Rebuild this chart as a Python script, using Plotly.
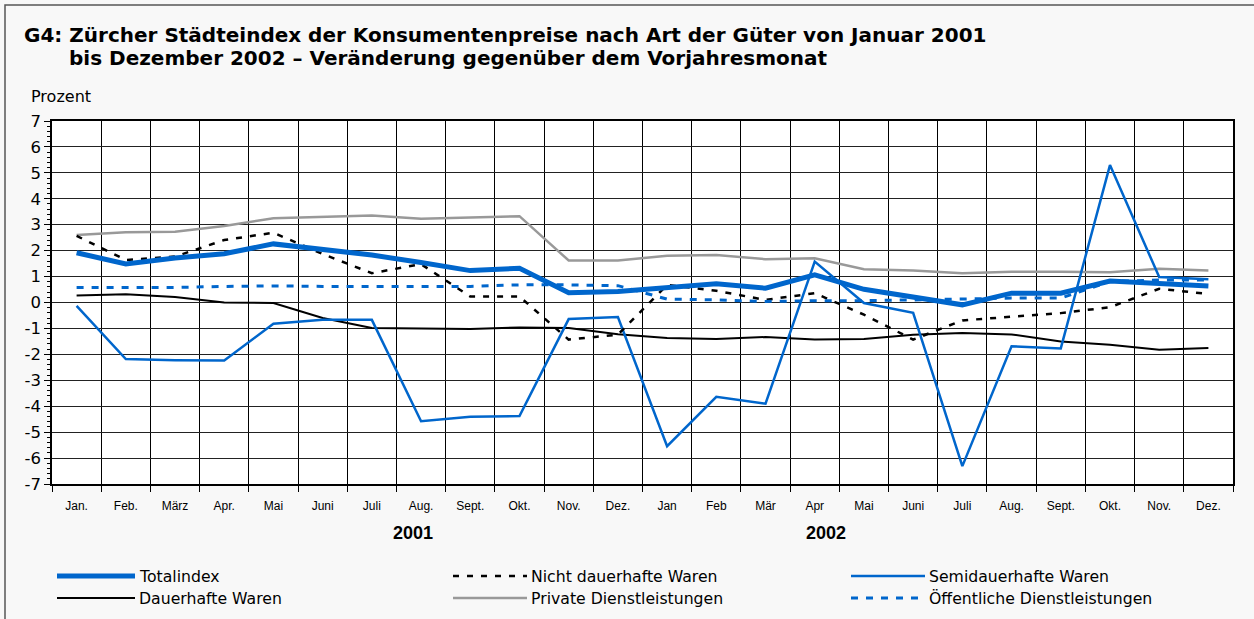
import plotly.graph_objects as go

months = ["Jan.", "Feb.", "März", "Apr.", "Mai", "Juni", "Juli", "Aug.", "Sept.", "Okt.", "Nov.", "Dez.",
          "Jan", "Feb", "Mär", "Apr", "Mai", "Juni", "Juli", "Aug.", "Sept.", "Okt.", "Nov.", "Dez."]
years = ["2001", "2002"]
y_ticks = [-7, -6, -5, -4, -3, -2, -1, 0, 1, 2, 3, 4, 5, 6, 7]
y_tick_labels = ["-7", "-6", "-5", "-4", "-3", "-2", "-1", "0", "1", "2", "3", "4", "5", "6", "7"]

totalindex = [1.92, 1.49, 1.72, 1.88, 2.26, 2.03, 1.83, 1.54, 1.23, 1.32, 0.38, 0.42,
              0.55, 0.72, 0.55, 1.07, 0.51, 0.23, -0.09, 0.36, 0.36, 0.83, 0.72, 0.64]
nicht_dauerhaft = [2.57, 1.64, 1.77, 2.41, 2.69, 1.87, 1.13, 1.48, 0.23, 0.23, -1.43, -1.24,
                   0.68, 0.45, 0.10, 0.36, -0.47, -1.43, -0.69, -0.54, -0.41, -0.18, 0.53, 0.33]
semidauerhaft = [-0.13, -2.18, -2.23, -2.24, -0.82, -0.67, -0.67, -4.58, -4.41, -4.38, -0.64, -0.56,
                 -5.54, -3.64, -3.90, 1.58, -0.02, -0.40, -6.31, -1.69, -1.77, 5.30, 0.98, 0.90]
dauerhaft = [0.27, 0.32, 0.21, 0.00, -0.02, -0.60, -0.98, -1.00, -1.02, -0.96, -0.98, -1.22,
             -1.37, -1.41, -1.33, -1.43, -1.41, -1.24, -1.18, -1.23, -1.50, -1.63, -1.82, -1.75]
private_dl = [2.60, 2.71, 2.73, 2.95, 3.25, 3.31, 3.36, 3.23, 3.27, 3.33, 1.62, 1.62,
              1.80, 1.83, 1.67, 1.71, 1.28, 1.23, 1.13, 1.19, 1.19, 1.17, 1.30, 1.23]
oeffentliche_dl = [0.58, 0.58, 0.58, 0.62, 0.64, 0.62, 0.62, 0.62, 0.62, 0.68, 0.68, 0.65,
                   0.13, 0.10, 0.04, 0.07, 0.07, 0.10, 0.13, 0.17, 0.17, 0.81, 0.87, 0.87]

x = list(range(len(months)))
FONT = "DejaVu Sans, sans-serif"
NARROW = "Liberation Sans, Arial, sans-serif"
BLUE = "#0066cc"

series = [
    ("Dauerhafte Waren", dauerhaft, dict(color="#000000", width=2)),
    ("Private Dienstleistungen", private_dl, dict(color="#999999", width=2.5)),
    ("Semidauerhafte Waren", semidauerhaft, dict(color=BLUE, width=2.5)),
    ("Nicht dauerhafte Waren", nicht_dauerhaft, dict(color="#000000", width=2.5, dash="6px,8px")),
    ("Öffentliche Dienstleistungen", oeffentliche_dl, dict(color=BLUE, width=3, dash="7px,8px")),
    ("Totalindex", totalindex, dict(color=BLUE, width=5)),
]

fig = go.Figure()
for name, vals, ln in series:
    fig.add_trace(go.Scatter(x=x, y=vals, mode="lines", name=name, line=ln, showlegend=False))

W, H = 1254, 619
L, R, T, B = 52, 1233, 121, 484
pw, ph = R - L, B - T

def px(v):
    return (v - L) / pw

def py(v):
    return (B - v) / ph

fig.update_layout(
    width=W, height=H,
    margin=dict(l=L, r=W - R, t=T, b=H - B),
    paper_bgcolor="#f8f8f8",
    plot_bgcolor="#ffffff",
    font=dict(family=FONT, color="#000000"),
    showlegend=False,
)

fig.update_xaxes(
    range=[-0.5, 23.5],
    tickmode="array", tickvals=x, ticktext=months,
    ticks="", showgrid=False, zeroline=False,
    tickfont=dict(size=12, family=NARROW), ticklabelstandoff=10,
    showline=True, linecolor="#000000", linewidth=2, mirror=True,
    minor=dict(tickmode="array", tickvals=[i - 0.5 for i in range(25)],
               ticks="outside", ticklen=6, tickcolor="#000000", tickwidth=1,
               showgrid=True, gridcolor="#000000", gridwidth=1),
)
fig.update_yaxes(
    range=[-7, 7], tickmode="array", tickvals=y_ticks, ticktext=y_tick_labels,
    ticks="outside", ticklen=6, tickcolor="#000000",
    showgrid=True, gridcolor="#222222", gridwidth=1,
    zeroline=False,
    tickfont=dict(size=16.5),
    showline=True, linecolor="#000000", linewidth=1.5, mirror=True,
    minor=dict(tickmode="linear", tick0=0, dtick=0.2, ticks="outside", ticklen=3,
               tickcolor="#000000", showgrid=False),
)

ann = []
ann.append(dict(text="<b>G4: Zürcher Städteindex der Konsumentenpreise nach Art der Güter von Januar 2001</b>",
                x=px(22), y=py(35), xref="paper", yref="paper", xanchor="left", yanchor="middle",
                showarrow=False, font=dict(size=20)))
ann.append(dict(text="<b>bis Dezember 2002 – Veränderung gegenüber dem Vorjahresmonat</b>",
                x=px(67), y=py(58), xref="paper", yref="paper", xanchor="left", yanchor="middle",
                showarrow=False, font=dict(size=20)))
ann.append(dict(text="Prozent", x=px(29), y=py(96), xref="paper", yref="paper",
                xanchor="left", yanchor="middle", showarrow=False, font=dict(size=16)))
for yr, xc in zip(years, [413, 826]):
    ann.append(dict(text="<b>" + yr + "</b>", x=px(xc), y=py(533), xref="paper", yref="paper",
                    xanchor="center", yanchor="middle", showarrow=False,
                    font=dict(size=18, family=NARROW)))

shapes = []
shapes.append(dict(type="rect", xref="paper", yref="paper", x0=px(5), x1=px(1262), y0=py(5), y1=py(630),
                   line=dict(color="#555555", width=1.5), fillcolor="rgba(0,0,0,0)", layer="below"))

legend_items = [
    ("Totalindex", dict(color=BLUE, width=5), 57, 135, 576),
    ("Dauerhafte Waren", dict(color="#000000", width=2), 57, 135, 598),
    ("Nicht dauerhafte Waren", dict(color="#000000", width=2.5, dash="6px,8px"), 453, 527, 576),
    ("Private Dienstleistungen", dict(color="#999999", width=2.5), 453, 527, 598),
    ("Semidauerhafte Waren", dict(color=BLUE, width=2.5), 851, 925, 576),
    ("Öffentliche Dienstleistungen", dict(color=BLUE, width=3, dash="7px,8px"), 851, 925, 598),
]
for name, ln, x0, x1, yy in legend_items:
    shapes.append(dict(type="line", xref="paper", yref="paper", x0=px(x0), x1=px(x1), y0=py(yy), y1=py(yy),
                       line=ln))
    ann.append(dict(text=name, x=px(x1 + 2), y=py(yy), xref="paper", yref="paper",
                    xanchor="left", yanchor="middle", showarrow=False, font=dict(size=15.7)))

fig.update_layout(annotations=ann, shapes=shapes)

fig.write_html("out.html", config={"displayModeBar": False},
               post_script="document.body.style.margin='0';document.body.style.overflow='hidden';")
